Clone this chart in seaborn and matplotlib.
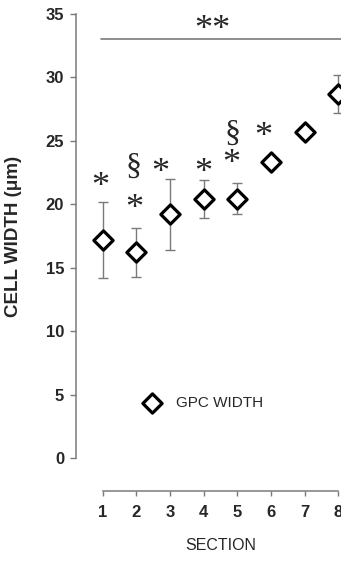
import numpy as np
import pandas as pd
import matplotlib
matplotlib.use("Agg")
import matplotlib.pyplot as plt
import seaborn as sns

# Mean GPC width per section with its error (um)
sections = [1, 2, 3, 4, 5, 6, 7, 8]
width_mean = [17.2, 16.2, 19.2, 20.4, 20.45, 23.35, 25.7, 28.7]
width_err = [3.0, 1.9, 2.8, 1.5, 1.2, 0.3, 0.2, 1.5]
x_ticks = [1, 2, 3, 4, 5, 6, 7, 8]
y_ticks = [0, 5, 10, 15, 20, 25, 30, 35]

# Significance marks (symbol, section position, height)
marks = ["*", "*", "§", "*", "*", "*", "§", "*"]
mark_x = [0.91, 1.92, 1.92, 2.70, 4.0, 4.82, 4.86, 5.77]
mark_y = [21.9, 20.1, 22.95, 22.95, 23.0, 23.7, 25.55, 25.8]
overall_mark = "**"
overall_level = 33.0

sns.set_style("ticks")
plt.rcParams["font.family"] = ["Liberation Sans", "DejaVu Sans"]

fig = plt.figure(figsize=(3.41, 5.62), dpi=100)
ax = fig.add_axes([76 / 341, (562 - 458) / 562, 289 / 341, 444 / 562])

df = pd.DataFrame({"section": sections, "width": width_mean, "err": width_err})

ax.errorbar(df["section"], df["width"], yerr=df["err"], fmt="none",
            ecolor="#7a7a7a", elinewidth=1.0, capsize=3.3, capthick=1.0,
            zorder=2, clip_on=False)
sns.scatterplot(data=df, x="section", y="width", marker="D", s=9.8 ** 2,
                facecolor="white", edgecolor="black", linewidth=2.3,
                label="GPC WIDTH", zorder=3, clip_on=False, ax=ax)

# Overall significance bar
ax.plot([0.94, 9.0], [overall_level, overall_level], color="#7a7a7a", lw=1.2,
        clip_on=False, zorder=1)
ax.text(4.27, 34.3 - 0.6, overall_mark, ha="center", va="center",
        family="Liberation Serif", fontsize=26, clip_on=False)

for sym, mx, my in zip(marks, mark_x, mark_y):
    if sym == "*":
        ax.text(mx, my - 0.55, sym, ha="center", va="center",
                family="Liberation Serif", fontsize=26)
    else:
        ax.text(mx, my, sym, ha="center", va="center",
                family="Liberation Serif", fontsize=23)

ax.set_xlim(0.2, 8.8)
ax.set_ylim(0, 35)

ax.spines["right"].set_visible(False)
ax.spines["top"].set_visible(False)
ax.spines["bottom"].set_position(("outward", 24))
ax.spines["bottom"].set_bounds(1, 8)
ax.spines["left"].set_bounds(0, 35)
for s in ("left", "bottom"):
    ax.spines[s].set_color("#7a7a7a")
    ax.spines[s].set_linewidth(1.1)

ax.set_xticks(x_ticks)
ax.set_yticks(y_ticks)
ax.set_xticklabels([str(t) for t in x_ticks], fontweight="bold", fontsize=12)
ax.set_yticklabels([str(t) for t in y_ticks], fontweight="bold", fontsize=12)
ax.tick_params(axis="y", length=4.5, width=1.0, color="#7a7a7a", pad=4)
ax.tick_params(axis="x", length=3.5, width=1.0, color="#7a7a7a", pad=6)

ax.set_xlabel("SECTION", fontsize=11.5, labelpad=13)
ax.set_ylabel("CELL WIDTH (\u03bcm)", fontsize=13.5, fontweight="bold")
ax.yaxis.set_label_coords(-54 / 289, 0.5)

ax.legend(loc="center left", bbox_to_anchor=(2.22, 4.33),
          bbox_transform=ax.transData, frameon=False, borderpad=0,
          borderaxespad=0, handlelength=1.0, handletextpad=1.1,
          fontsize=11)

fig.savefig("out.png", dpi=100)
